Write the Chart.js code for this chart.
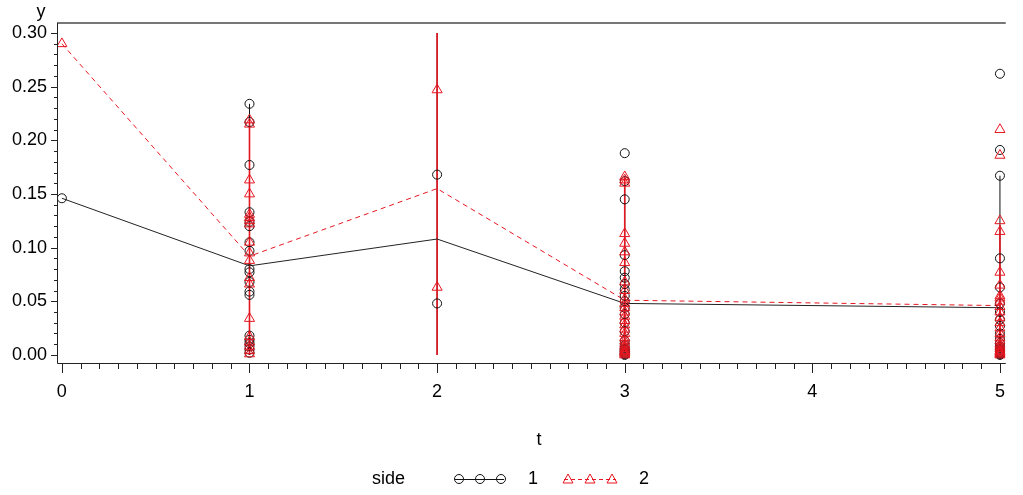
<!DOCTYPE html>
<html>
<head>
<meta charset="utf-8">
<script src="https://cdn.jsdelivr.net/npm/chart.js@4/dist/chart.umd.min.js"></script>
<style>
  html, body { margin: 0; padding: 0; background: #fff; overflow: hidden; }
  #wrap { width: 1023px; height: 495px; }
</style>
</head>
<body>
<div id="wrap"><canvas id="c" width="1023" height="495"></canvas></div>
<script>
// time points
var tVals = [0, 1, 2, 3, 5];

// observed y per time point, side 1 (circles)
var side1Obs = [
	[0.146],
	[0.234, 0.217, 0.177, 0.133, 0.124, 0.120, 0.105, 0.097, 0.080, 0.077, 0.068, 0.059, 0.056, 0.018, 0.014, 0.011, 0.008, 0.005, 0.002],
	[0.168, 0.048],
	[0.188, 0.162, 0.145, 0.093, 0.078, 0.072, 0.066, 0.061, 0.055, 0.050, 0.044, 0.038, 0.030, 0.022, 0.013, 0.009, 0.006, 0.003, 0.001, 0.004, 0.002, 0.001, 0.000, 0.005],
	[0.262, 0.191, 0.167, 0.090, 0.063, 0.048, 0.040, 0.033, 0.027, 0.020, 0.015, 0.011, 0.008, 0.005, 0.003, 0.002, 0.001, 0.004, 0.006, 0.002, 0.001, 0.000]
];

// observed y per time point, side 2 (triangles)
var side2Obs = [
	[0.290],
	[0.219, 0.215, 0.163, 0.150, 0.131, 0.128, 0.125, 0.122, 0.105, 0.095, 0.088, 0.072, 0.066, 0.034, 0.017, 0.012, 0.008, 0.004, 0.001],
	[0.247, 0.063],
	[0.166, 0.163, 0.160, 0.113, 0.104, 0.096, 0.086, 0.068, 0.060, 0.052, 0.048, 0.044, 0.040, 0.036, 0.032, 0.028, 0.024, 0.020, 0.016, 0.013, 0.010, 0.008, 0.006, 0.004, 0.003, 0.002, 0.001, 0.000],
	[0.210, 0.186, 0.125, 0.115, 0.077, 0.065, 0.055, 0.053, 0.050, 0.045, 0.040, 0.035, 0.030, 0.025, 0.020, 0.016, 0.013, 0.010, 0.008, 0.006, 0.004, 0.003, 0.002, 0.001, 0.000]
];

// joined means
var side1Mean = [0.146, 0.083, 0.108, 0.048, 0.044];
var side2Mean = [0.290, 0.092, 0.155, 0.051, 0.046];

// vertical bars (low, high); null = no bar
var side1Low  = [null, 0.000, 0.000, 0.000, 0.000];
var side1High = [null, 0.234, 0.300, 0.160, 0.167];
var side2Low  = [null, 0.000, 0.000, 0.000, 0.000];
var side2High = [null, 0.219, 0.300, 0.166, 0.121];

var xTicks = [0, 1, 2, 3, 4, 5];
var yTicks = [0.00, 0.05, 0.10, 0.15, 0.20, 0.25, 0.30];

var BLACK = '#111';
var RED = 'rgb(230,22,32)';
var FONT = '"Liberation Sans", Arial, sans-serif';

function toPoints(obs) {
	var pts = [];
	for (var i = 0; i < tVals.length; i++) {
		for (var j = 0; j < obs[i].length; j++) {
			pts.push({ x: tVals[i], y: obs[i][j] });
		}
	}
	return pts;
}

function toLine(vals) {
	return tVals.map(function (t, i) { return { x: t, y: vals[i] }; });
}

// one line dataset per side, gaps between bars via null points
function toBars(lo, hi) {
	var pts = [];
	for (var i = 0; i < tVals.length; i++) {
		if (lo[i] === null) continue;
		pts.push({ x: tVals[i], y: lo[i] });
		pts.push({ x: tVals[i], y: hi[i] });
		pts.push({ x: tVals[i], y: null });
	}
	return pts;
}

// axis ticks, frame, titles and legend
var decorPlugin = {
	id: 'decor',
	afterDraw: function (chart) {
		var ctx = chart.ctx, xs = chart.scales.x, ys = chart.scales.y, a = chart.chartArea;
		ctx.save();
		// top frame
		ctx.strokeStyle = '#777';
		ctx.lineWidth = 2;
		ctx.beginPath();
		ctx.moveTo(a.left, a.top);
		ctx.lineTo(a.right, a.top);
		ctx.stroke();
		// axes
		ctx.strokeStyle = '#222';
		ctx.lineWidth = 1;
		ctx.beginPath();
		ctx.moveTo(a.left + 0.5, a.top);
		ctx.lineTo(a.left + 0.5, a.bottom + 0.5);
		ctx.lineTo(a.right, a.bottom + 0.5);
		ctx.stroke();
		// x ticks
		ctx.beginPath();
		for (var k = 0; k <= 50; k++) {
			var px = Math.round(xs.getPixelForValue(k / 10)) + 0.5;
			var len = (k % 10 === 0) ? 10 : 6;
			ctx.moveTo(px, a.bottom);
			ctx.lineTo(px, a.bottom + len);
		}
		// y ticks
		for (var m = 0; m <= 30; m++) {
			var py = Math.round(ys.getPixelForValue(m / 100)) + 0.5;
			var l2 = (m % 5 === 0) ? 6 : 3;
			ctx.moveTo(a.left, py);
			ctx.lineTo(a.left - l2, py);
		}
		ctx.stroke();

		// titles
		ctx.fillStyle = '#000';
		ctx.font = '18px ' + FONT;
		ctx.textAlign = 'center';
		ctx.textBaseline = 'middle';
		ctx.fillText('y', 41, 12);
		ctx.fillText('t', 539, 440);

		// legend
		var ly = 479;
		ctx.textAlign = 'left';
		ctx.fillText('side', 372, ly);
		// side 1 sample
		ctx.strokeStyle = BLACK;
		ctx.beginPath();
		ctx.moveTo(455, ly + 0.5);
		ctx.lineTo(504, ly + 0.5);
		ctx.stroke();
		[459, 480, 501].forEach(function (cx) {
			ctx.beginPath();
			ctx.arc(cx, ly, 4.5, 0, Math.PI * 2);
			ctx.stroke();
		});
		ctx.fillText('1', 528, ly);
		// side 2 sample
		ctx.strokeStyle = RED;
		ctx.setLineDash([4, 3]);
		ctx.beginPath();
		ctx.moveTo(564, ly + 0.5);
		ctx.lineTo(616, ly + 0.5);
		ctx.stroke();
		ctx.setLineDash([]);
		[568, 590, 612].forEach(function (cx) {
			ctx.beginPath();
			ctx.moveTo(cx, ly - 5);
			ctx.lineTo(cx + 5, ly + 4);
			ctx.lineTo(cx - 5, ly + 4);
			ctx.closePath();
			ctx.stroke();
		});
		ctx.fillText('2', 639, ly);
		ctx.restore();
	}
};

new Chart(document.getElementById('c').getContext('2d'), {
	type: 'scatter',
	data: {
		datasets: [
			{
				type: 'line',
				label: 'bars 1',
				order: 6,
				data: toBars(side1Low, side1High),
				borderColor: BLACK,
				borderWidth: 1,
				pointRadius: 0,
				spanGaps: false,
				fill: false
			},
			{
				type: 'line',
				label: 'bars 2',
				order: 5,
				data: toBars(side2Low, side2High),
				borderColor: RED,
				borderWidth: 1.6,
				pointRadius: 0,
				spanGaps: false,
				fill: false
			},
			{
				type: 'line',
				label: 'mean 1',
				order: 4,
				data: toLine(side1Mean),
				borderColor: '#222',
				borderWidth: 1,
				pointRadius: 0,
				fill: false,
				tension: 0
			},
			{
				type: 'line',
				label: 'mean 2',
				order: 3,
				data: toLine(side2Mean),
				borderColor: RED,
				borderWidth: 1,
				borderDash: [5, 4],
				pointRadius: 0,
				fill: false,
				tension: 0
			},
			{
				label: '1',
				order: 2,
				data: toPoints(side1Obs),
				pointStyle: 'circle',
				pointRadius: 4.5,
				borderColor: BLACK,
				borderWidth: 1,
				backgroundColor: 'rgba(0,0,0,0)'
			},
			{
				label: '2',
				order: 1,
				data: toPoints(side2Obs),
				pointStyle: 'triangle',
				pointRadius: 5.8,
				borderColor: RED,
				borderWidth: 1,
				backgroundColor: 'rgba(0,0,0,0)'
			}
		]
	},
	options: {
		responsive: false,
		animation: false,
		devicePixelRatio: 1,
		layout: { padding: { top: 23, right: 0, left: 0, bottom: 92 } },
		plugins: {
			legend: { display: false },
			tooltip: { enabled: false }
		},
		scales: {
			x: {
				type: 'linear',
				min: -0.026,
				max: 5.031,
				grid: { display: false, drawTicks: false },
				border: { display: false },
				afterBuildTicks: function (s) { s.ticks = xTicks.map(function (v) { return { value: v }; }); },
				afterFit: function (s) { s.height = 40; },
				ticks: {
					padding: 18,
					color: '#000',
					font: { family: FONT, size: 18 },
					maxRotation: 0,
					callback: function (v) { return String(v); }
				}
			},
			y: {
				type: 'linear',
				min: -0.0075,
				max: 0.3093,
				grid: { display: false, drawTicks: false },
				border: { display: false },
				afterBuildTicks: function (s) { s.ticks = yTicks.map(function (v) { return { value: v }; }); },
				afterFit: function (s) { s.width = 57; },
				ticks: {
					padding: 10,
					color: '#000',
					font: { family: FONT, size: 18 },
					callback: function (v) { return Number(v).toFixed(2); }
				}
			}
		}
	},
	plugins: [decorPlugin]
});
</script>
</body>
</html>
